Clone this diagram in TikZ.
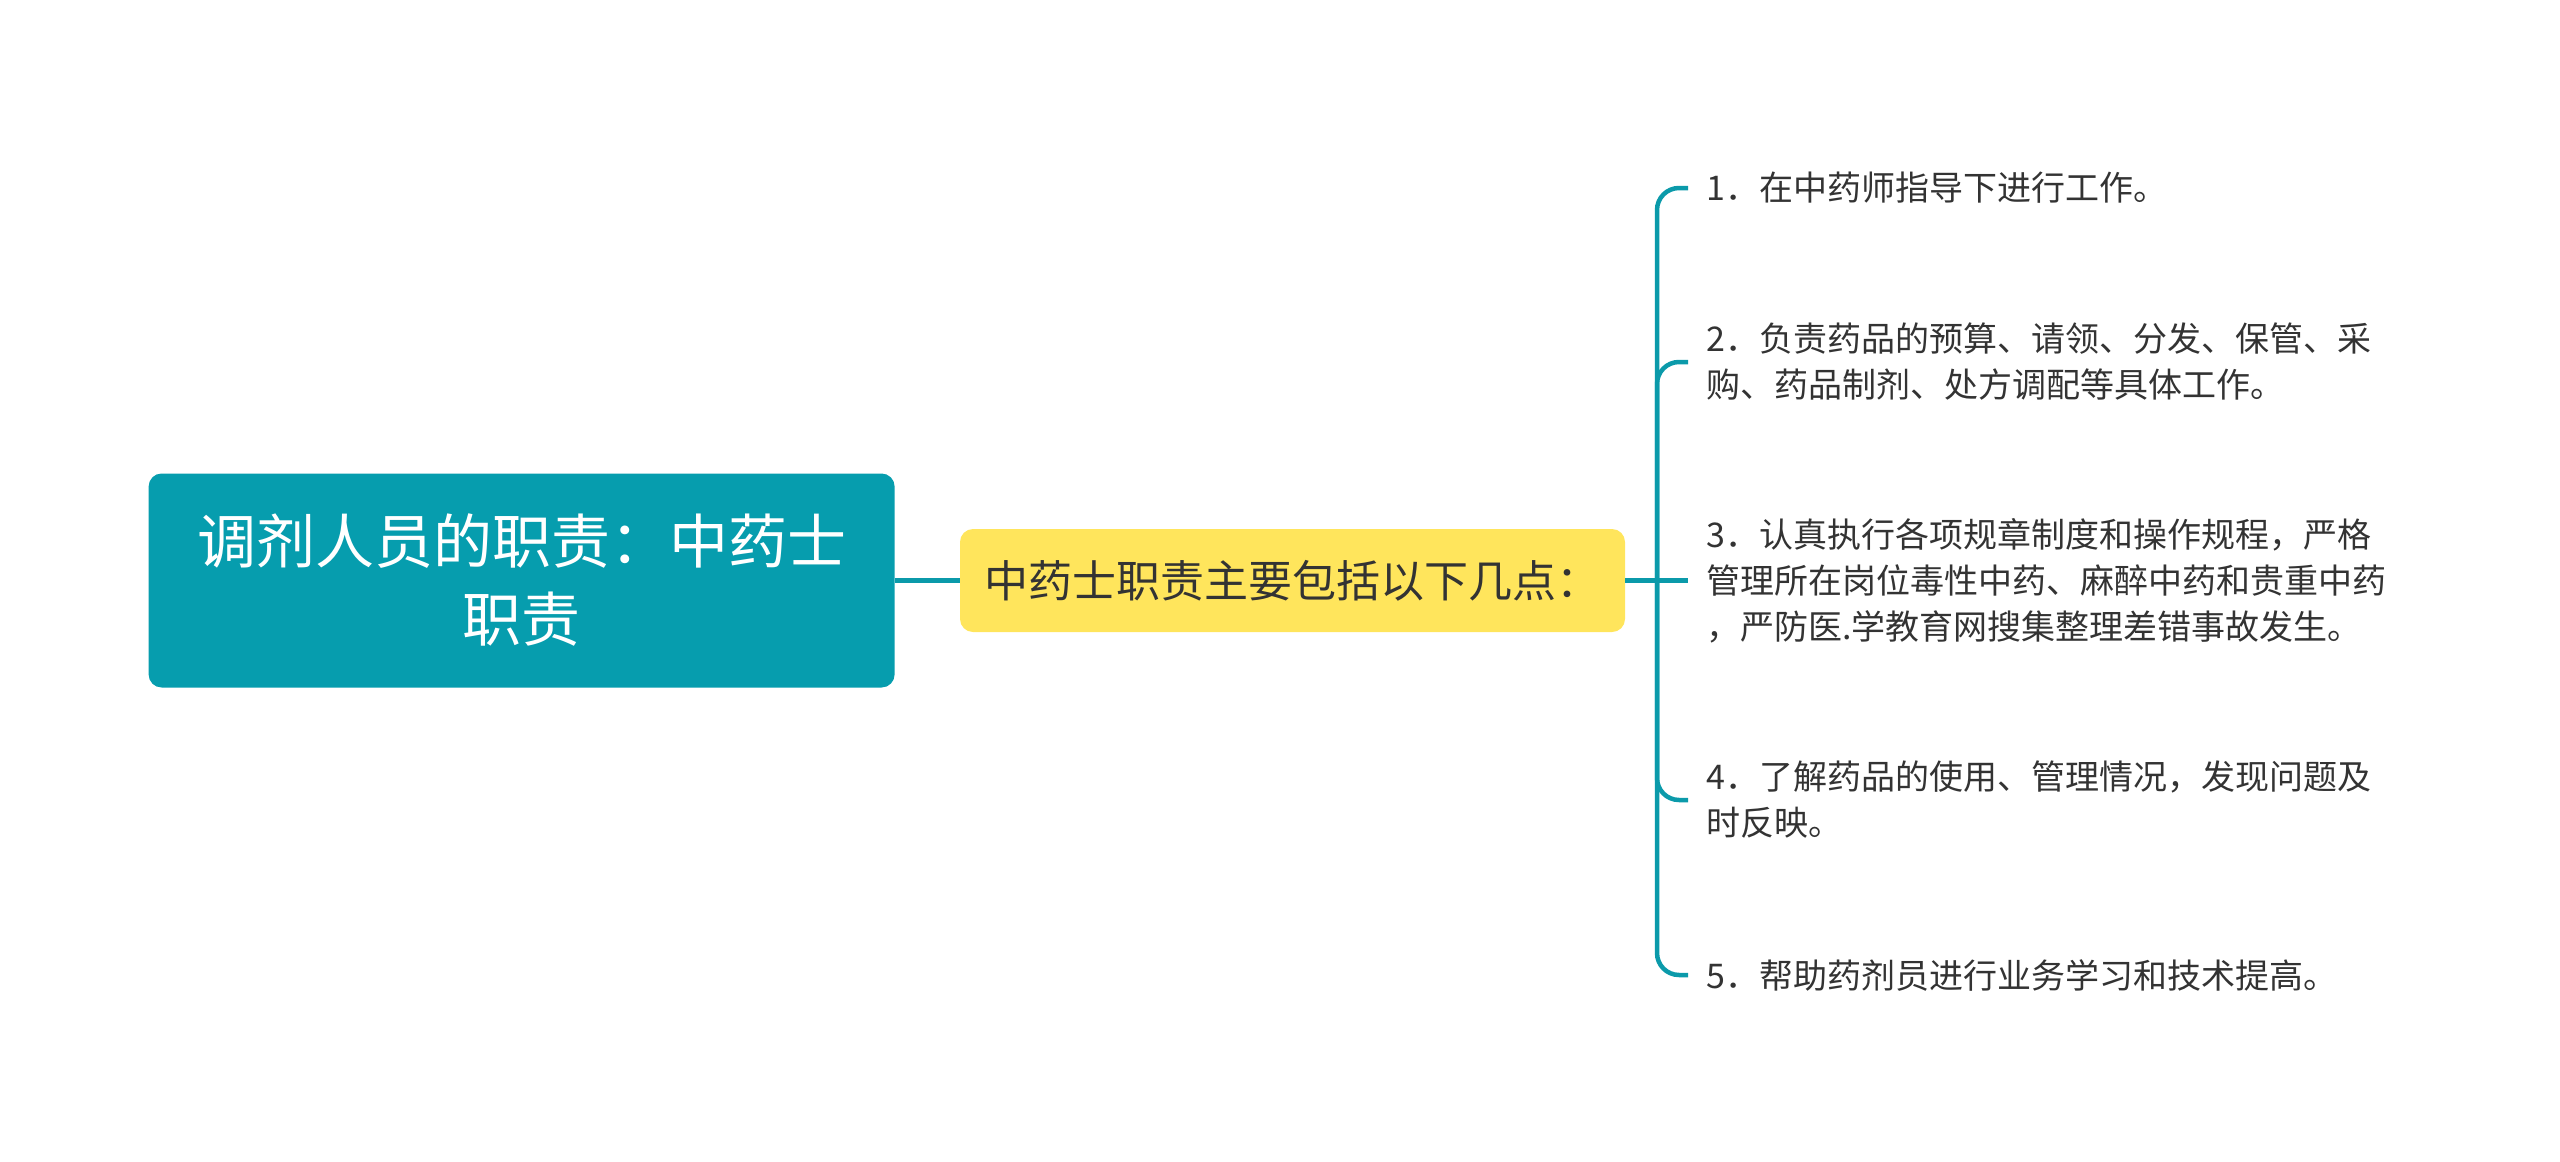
\documentclass[tikz,border=0pt]{standalone}
\usepackage{fontspec}
\setmainfont{Noto Sans CJK SC}
\definecolor{rootc}{HTML}{069DAE}
\definecolor{yelc}{HTML}{FFE55C}
\definecolor{txtc}{HTML}{333333}
\definecolor{lnkc}{HTML}{0B9AAA}
\tikzset{
 rootbox/.style={fill=rootc, rounded corners=13pt, minimum width=746pt, minimum height=214pt, text=white, font=\fontsize{59}{78}\selectfont, align=center, inner sep=0pt},
 midbox/.style={fill=yelc, rounded corners=13pt, minimum width=665pt, minimum height=103pt, text=txtc, font=\fontsize{44}{52}\selectfont, inner sep=0pt},
 leaf/.style={anchor=west, align=left, text=txtc, font=\fontsize{34}{46}\selectfont, inner sep=0pt},
 link/.style={draw=lnkc, line width=4.5pt},
 branch/.style={link, rounded corners=22pt}
}
\begin{document}
\begin{tikzpicture}[x=1pt,y=-1pt]
\useasboundingbox (0,0) rectangle (2560,1162);
\node[rootbox] (root) at (521.6,580.5) {调剂人员的职责：中药士\\职责};
\node[midbox] (mid) at (1292.5,580.5) {中药士职责主要包括以下几点：};
\node[leaf] (l1) at (1706,188) {1．在中药师指导下进行工作。};
\node[leaf] (l2) at (1706,362) {2．负责药品的预算、请领、分发、保管、采\\购、药品制剂、处方调配等具体工作。};
\node[leaf] (l3) at (1706,580.5) {3．认真执行各项规章制度和操作规程，严格\\管理所在岗位毒性中药、麻醉中药和贵重中药\\，严防医.学教育网搜集整理差错事故发生。};
\node[leaf] (l4) at (1706,800) {4．了解药品的使用、管理情况，发现问题及\\时反映。};
\node[leaf] (l5) at (1706,975) {5．帮助药剂员进行业务学习和技术提高。};
\coordinate (hub) at (1657,580.5);
\draw[link] (root.east) -- (mid.west);
\draw[link] (mid.east) -- ([xshift=-18pt]l3.west);
\draw[branch] (hub) |- ([xshift=-18pt]l1.west);
\draw[branch] (hub) |- ([xshift=-18pt]l2.west);
\draw[branch] (hub) |- ([xshift=-18pt]l4.west);
\draw[branch] (hub) |- ([xshift=-18pt]l5.west);
\end{tikzpicture}
\end{document}
